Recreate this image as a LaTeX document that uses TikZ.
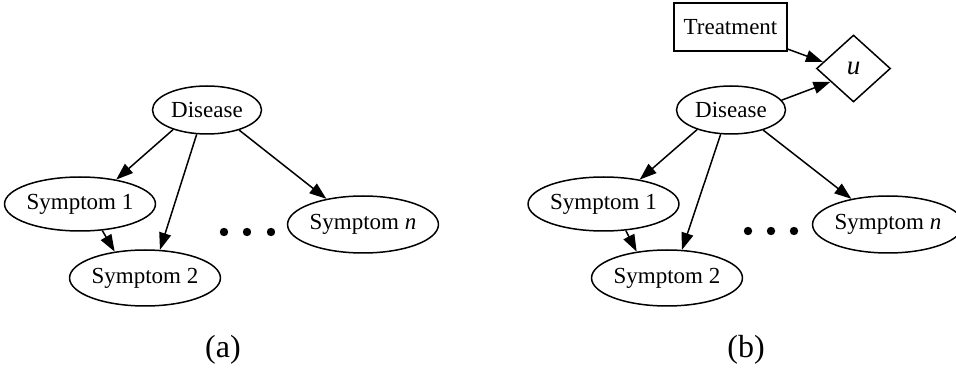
\documentclass[tikz,border=0pt]{standalone}
\usepackage{fontspec}
\setmainfont{Liberation Serif}
\usetikzlibrary{shapes.geometric,arrows.meta}
\tikzset{
  every node/.style={font=\fontsize{23}{27}\selectfont, inner sep=0pt},
  ell/.style={draw, ellipse, line width=1.5pt},
  sq/.style={draw, rectangle, line width=1.5pt},
  dia/.style={draw, diamond, line width=1.5pt},
  arrowline/.style={line width=1.5pt, -{Triangle[length=17pt,width=12pt]}},
  captext/.style={font=\fontsize{32}{36}\selectfont},
  dotfill/.style={fill=black}
}
\begin{document}
\begin{tikzpicture}[x=1pt,y=-1pt]
\useasboundingbox (0,0) rectangle (956,371);
% ---- panel (a)
\node[ell, minimum width=109pt, minimum height=48pt] (disA) at (207,110) {Disease};
\node[ell, minimum width=142pt, minimum height=54pt] (s1A) at (80,204) {Symptom 1};
\node[ell, minimum width=141pt, minimum height=56pt] (s2A) at (145,278) {Symptom 2};
\node[ell, minimum width=133pt, minimum height=57pt] (snA) at (363,224.5) {Symptom \textit{n}};
\foreach \x in {224,247,271} \fill[dotfill] (\x,232) circle (4.2pt);
\draw[arrowline] (disA.210) -- (s1A.34);
\draw[arrowline] (disA.247) -- (s2A.62);
\draw[arrowline] (disA.328) -- (snA.145);
\draw[arrowline] (s1A.310) -- (s2A.139);
\node[captext] (capA) at (223,350) {(a)};
% ---- panel (b)
\node[sq, minimum width=113pt, minimum height=48pt] (trB) at (730.5,27) {Treatment};
\node[dia, minimum width=74pt, minimum height=67pt] (uB) at (853.5,68.5) {\fontsize{27}{30}\selectfont\textit{u}};
\node[ell, minimum width=109pt, minimum height=48pt] (disB) at (731,110) {Disease};
\node[ell, minimum width=142pt, minimum height=54pt] (s1B) at (603.5,204) {Symptom 1};
\node[ell, minimum width=141pt, minimum height=56pt] (s2B) at (667,278) {Symptom 2};
\node[ell, minimum width=133pt, minimum height=57pt] (snB) at (888,224.5) {Symptom \textit{n}};
\foreach \x in {748,771,794} \fill[dotfill] (\x,231) circle (4.2pt);
\draw[arrowline] (disB.210) -- (s1B.34);
\draw[arrowline] (disB.247) -- (s2B.62);
\draw[arrowline] (disB.328) -- (snB.145);
\draw[arrowline] (s1B.310) -- (s2B.139);
\draw[arrowline] ([xshift=-1pt,yshift=3pt]trB.south east) -- (uB.168);
\draw[arrowline] (disB.11) -- (uB.210);
\node[captext] (capB) at (746,350) {(b)};
\end{tikzpicture}
\end{document}
